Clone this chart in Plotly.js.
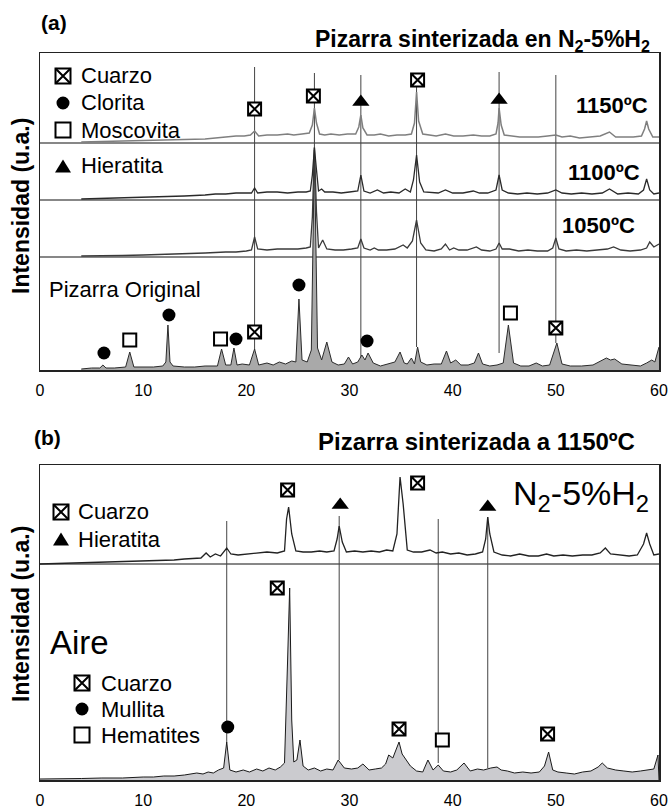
<!DOCTYPE html>
<html><head><meta charset="utf-8">
<script src="https://cdn.plot.ly/plotly-3.0.1.min.js"></script>
<style>html,body{margin:0;padding:0;background:#fff}#chart{width:672px;height:809px}</style>
</head><body><div id="chart"></div>
<script>
// ---------------- DATA (2θ in degrees, intensity in arbitrary units) ----------------
// Panel (a): 1150 ºC in N2-5%H2
const x1150 = [4,6,8,10,12,14,15,16,17,18,
  19,19.8,20.4,20.8,21.2,22,23,24,24.6,25.4,
  26.1,26.4,26.6,26.8,27.1,27.6,28.2,29,29.8,30.6,
  30.9,31.1,31.3,31.7,32.4,33,33.8,34.6,35.4,36.0,
  36.3,36.5,36.7,37.1,37.8,38.4,39.3,40.1,41,42,
  42.8,43.6,44.2,44.4,44.5,44.7,45.0,45.6,46.5,47.4,
  48.3,49.2,50.0,50.6,51.4,52.3,53.2,54.3,55.2,55.8,
  56.6,57.5,58.3,58.6,58.8,59.0,59.4,60];
const y1150 = [1,1.5,2,2,2.5,3,4,4,5,6,
  7,7,8,12,7,8,8,9,8,9,
  10,18,35,20,9,8,9,8,9,9,
  16,28,15,8,8,9,7,8,8,9,
  20,51,22,9,8,7,9,7,7,8,
  7,7,9,20,35,18,8,7,6,6,
  6,7,8,6,7,5,6,7,11,6,
  6,6,7,14,22,14,6,6];
// 1100 ºC
const x1100 = [4,6,8,10,12,14,16,17,18,19,
  20,20.5,20.8,21.1,22,23,24,25,25.8,26.2,
  26.4,26.6,26.8,27.0,27.3,27.6,28.4,29.2,30.0,30.8,
  31.1,31.4,32.0,32.7,33.3,34.0,34.8,35.4,35.9,36.2,
  36.5,36.8,37.2,38.0,38.6,39.3,40.0,41.0,42.0,42.6,
  43.4,44.2,44.5,44.8,45.4,46.3,47.2,48.2,49.2,50.0,
  50.6,51.5,52.5,53.5,54.5,55.2,56.0,57.0,58.0,58.5,
  58.8,59.1,59.5,60];
const y1100 = [1,1.5,2,3,3,4,5,6,6,7,
  7,7,12,7,8,8,7,8,8,9,
  25,52,30,9,11,8,8,7,8,9,
  25,9,7,10,7,8,7,11,8,20,
  45,18,8,7,7,10,7,7,9,7,
  7,10,25,10,7,6,7,6,7,10,
  7,6,7,6,7,11,6,7,6,10,
  21,10,6,7];
// 1050 ºC
const x1050 = [4,6,8,10,12,14,16,18,19,20,
  20.5,20.8,21.1,22,23,24,25,25.8,26.2,26.4,
  26.6,26.8,27.0,27.4,27.8,28.6,29.4,30.2,30.8,31.1,
  31.4,32.0,32.4,32.8,33.6,34.4,35.2,35.6,36.1,36.5,
  36.9,37.4,38.2,38.9,39.3,39.7,40.1,40.6,41.4,42.3,
  42.8,43.6,44.2,44.5,44.8,45.5,46.4,47.3,48.2,49.2,
  49.7,50.0,50.3,51.0,52.0,53.0,54.0,55.0,55.6,56.3,
  57.2,58.2,58.8,59.1,59.5,60];
const y1050 = [1,1,1.5,2,2.5,3,4,5,5,6,
  7,20,8,7,8,8,8,9,10,40,
  110,45,9,17,8,7,7,8,9,18,
  9,7,9,7,7,8,12,9,16,37,
  14,7,6,8,13,7,9,7,7,10,
  7,6,8,14,8,8,6,7,6,6,
  9,19,8,6,7,6,7,8,10,7,
  6,7,9,15,10,13];
// Pizarra original
const xOrig = [4,5,5.8,6.1,6.4,7.2,8.3,8.7,9.1,10,
  11,11.9,12.2,12.4,12.6,12.9,14,15,16,17.2,
  17.6,18.0,18.5,18.8,19.1,19.6,20.3,20.8,21.2,22.0,
  22.6,23.2,23.8,24.4,24.8,25.1,25.4,25.9,26.3,26.6,
  26.9,27.3,27.8,28.3,28.9,29.5,29.9,30.3,30.8,31.2,
  31.5,31.8,32.3,33.0,33.8,34.4,34.9,35.3,35.6,36.0,
  36.3,36.6,36.9,37.5,38.2,38.9,39.4,39.8,40.3,40.8,
  41.5,42.1,42.5,42.9,43.6,44.3,44.9,45.4,45.9,46.6,
  47.4,48.1,48.7,49.4,50.1,50.6,51.4,52.5,53.6,54.4,
  54.9,55.3,55.7,56.4,57.3,58.2,58.8,59.3,59.6,60];
const yOrig = [1,2,2,5,2,2,3,18,3,3,
  3,4,8,45,8,4,3,3,4,4,
  21,5,5,22,5,6,5,21,5,7,
  5,8,6,9,8,71,10,8,20,220,
  22,10,28,8,5,6,13,6,8,15,
  10,17,7,4,6,8,18,7,6,12,
  6,23,8,5,6,6,19,7,10,5,
  5,7,17,6,4,5,7,45,7,4,
  4,7,4,5,27,6,4,4,5,9,
  12,10,11,6,5,4,7,10,8,23];

// Panel (b): 1150 ºC in N2-5%H2
const xN2 = [0,2,4,6,8,10,12,13,14,15,
  15.6,16.1,16.5,17.0,17.5,18.1,18.5,19.2,20,21,
  22,23,23.7,23.9,24.1,24.4,24.8,25.5,26.3,27.1,
  27.8,28.5,28.8,29.0,29.3,29.7,30.5,31.3,32.1,32.9,
  33.6,34.2,34.6,34.9,35.2,35.6,36.2,37.0,37.8,38.4,
  39.0,39.8,40.6,41.4,42.2,42.9,43.2,43.4,43.6,44.0,
  44.8,45.6,46.5,47.4,48.3,49.1,49.8,50.7,51.6,52.6,
  53.5,54.3,54.8,55.3,56.2,57.1,57.9,58.5,58.8,59.1,
  59.5,60];
const yN2 = [0,0.5,1,1.5,2,3,3.5,4,5,6,
  6,11,7,10,8,16,10,9,10,11,
  12,11,13,45,57,30,13,12,12,13,
  12,13,25,38,22,12,13,12,13,12,
  14,13,30,87,60,14,12,12,14,11,
  12,10,11,9,10,12,25,47,30,12,
  9,8,10,8,8,10,8,9,8,9,
  9,11,16,10,9,8,9,20,31,20,
  9,10];
// 1150 ºC in air
const xAir = [0,2,4,6,8,10,11,12,13,14,
  14.6,15.2,15.8,16.3,16.8,17.3,17.8,18.1,18.4,19.0,
  19.7,20.3,21.0,21.6,22.2,22.8,23.3,23.7,24.0,24.2,
  24.4,24.6,24.9,25.2,25.5,26.0,26.6,27.2,27.8,28.4,
  28.9,29.5,30.2,30.8,31.3,31.9,32.5,33.1,33.5,33.8,
  34.2,34.5,34.8,35.1,35.5,35.9,36.5,37.1,37.6,38.1,
  38.6,39.1,39.8,40.4,41.1,41.7,42.4,43.0,43.7,44.3,
  44.7,45.3,46.0,46.8,47.6,48.4,48.9,49.3,49.7,50.2,
  51.0,51.8,52.6,53.4,54.1,54.5,55.0,55.8,56.6,57.4,
  58.2,58.9,59.5,59.9,60];
const yAir = [1,1,1.5,2,2,3,3,4,4,5,
  6,7,6,8,7,10,12,38,10,8,
  10,8,11,9,12,10,13,17,120,192,
  60,18,20,40,14,10,12,9,11,10,
  20,12,11,12,16,10,11,12,16,25,
  22,30,38,26,20,14,9,8,20,10,
  15,9,8,10,17,9,11,10,12,13,
  10,9,7,8,7,8,14,28,10,8,
  7,6,8,9,13,17,12,10,9,8,
  9,10,11,25,0];

// Phase labels (2θ position, label height in panel units)
const topCuarzoX = [20.8, 26.5, 36.6, 20.8, 50.0];
const topCuarzoY = [261, 274, 290, 38, 42];
const topHieratitaX = [31.1, 44.5];
const topHieratitaY = [268, 270];
const topCloritaX = [6.2, 12.5, 19.0, 25.1, 31.7];
const topCloritaY = [17, 55, 31, 85, 29];
const topMoscovitaX = [8.7, 17.5, 45.6];
const topMoscovitaY = [30, 31, 57];

const n2CuarzoX = [24.0, 36.6];
const n2CuarzoY = [290, 297];
const n2HieratitaX = [29.1, 43.4];
const n2HieratitaY = [275, 273];
const airCuarzoX = [23.0, 34.8, 49.2];
const airCuarzoY = [192, 51, 46];
const airMullitaX = [18.2];
const airMullitaY = [53];
const airHematitesX = [39.0];
const airHematitesY = [40];

// Reference lines (2θ, top, bottom in panel units)
const topRefX = [20.8, 26.6, 31.1, 36.5, 44.5, 50.0];
const topRefTop = [303, 297, 295, 295, 298, 295];
const topRefBot = [20, 0, 7, 23, 17, 27];
const botRefX = [18.1, 29.0, 38.6, 43.4];
const botRefTop = [259, 264, 261, 263];
const botRefBot = [38, 20, 17, 12];

const tickVals = [0, 10, 20, 30, 40, 50, 60];
const tickText = ['0', '10', '20', '30', '40', '50', '60'];

const legendTopNames = ['Cuarzo', 'Clorita', 'Moscovita', 'Hieratita'];
const legendTopSyms = ['quartz', 'circle', 'square', 'triangle'];
const legendN2Names = ['Cuarzo', 'Hieratita'];
const legendN2Syms = ['quartz', 'triangle'];
const legendAirNames = ['Cuarzo', 'Mullita', 'Hematites'];
const legendAirSyms = ['quartz', 'circle', 'square'];

// ---------------- LAYOUT HELPERS ----------------
const W = 672, H = 809, L = 40, R = 13;
const PW = W - L - R;
const px = x => (x - L) / PW;
const py = y => (H - y) / H;
const FONT = '"Liberation Sans", Arial, Helvetica, sans-serif';

const OFF = {o1150: 227, o1100: 170, o1050: 113, orig: 0, n2: 216, air: 0};
const add = (arr, o) => arr.map(v => v + o);

const traces = [];
function line(x, y, xa, ya, color, w, fill, fillcolor) {
  const t = {x, y, xaxis: xa, yaxis: ya, type: 'scatter', mode: 'lines',
    line: {color, width: w}, hoverinfo: 'skip', showlegend: false};
  if (fill) { t.fill = 'tozeroy'; t.fillcolor = fillcolor; }
  traces.push(t);
}
line(xOrig, add(yOrig, OFF.orig), 'x', 'y', '#2b2b2b', 1, true, '#a9a9a9');
line(x1050, add(y1050, OFF.o1050), 'x', 'y', '#3a3a3a', 1.3);
line(x1100, add(y1100, OFF.o1100), 'x', 'y', '#2a2a2a', 1.3);
line(x1150, add(y1150, OFF.o1150), 'x', 'y', '#7f7f7f', 1.5);
line(xAir, add(yAir, OFF.air), 'x2', 'y2', '#1a1a1a', 1, true, '#cbcbcf');
line(xN2, add(yN2, OFF.n2), 'x2', 'y2', '#222', 1.3);

const SYM = {
  quartz: {symbol: 'square-x', size: 13, color: '#fff', line: {color: '#000', width: 2}},
  square: {symbol: 'square', size: 13, color: '#fff', line: {color: '#000', width: 2}},
  circle: {symbol: 'circle', size: 13, color: '#000', line: {width: 0}},
  triangle: {symbol: 'triangle-up', size: 15, color: '#000', line: {width: 0}}
};
function marks(x, y, xa, ya, sym) {
  traces.push({x, y, xaxis: xa, yaxis: ya, type: 'scatter', mode: 'markers',
    marker: SYM[sym], hoverinfo: 'skip', showlegend: false, cliponaxis: false});
}
marks(topCuarzoX, topCuarzoY, 'x', 'y', 'quartz');
marks(topHieratitaX, topHieratitaY, 'x', 'y', 'triangle');
marks(topCloritaX, topCloritaY, 'x', 'y', 'circle');
marks(topMoscovitaX, topMoscovitaY, 'x', 'y', 'square');
marks(n2CuarzoX, n2CuarzoY, 'x2', 'y2', 'quartz');
marks(n2HieratitaX, n2HieratitaY, 'x2', 'y2', 'triangle');
marks(airCuarzoX, airCuarzoY, 'x2', 'y2', 'quartz');
marks(airMullitaX, airMullitaY, 'x2', 'y2', 'circle');
marks(airHematitesX, airHematitesY, 'x2', 'y2', 'square');

// ---------------- SHAPES ----------------
const shapes = [];
topRefX.forEach((x, i) => shapes.push({type: 'line', xref: 'x', yref: 'y', x0: x, x1: x,
  y0: topRefBot[i], y1: topRefTop[i], line: {color: '#444', width: 1}, layer: 'below'}));
botRefX.forEach((x, i) => shapes.push({type: 'line', xref: 'x2', yref: 'y2', x0: x, x1: x,
  y0: botRefBot[i], y1: botRefTop[i], line: {color: '#444', width: 1}, layer: 'below'}));
[OFF.o1150, OFF.o1100, OFF.o1050].forEach(v => shapes.push({type: 'line', xref: 'paper', yref: 'y',
  x0: 0, x1: 1, y0: v, y1: v, line: {color: '#111', width: 1.2}, layer: 'below'}));
shapes.push({type: 'line', xref: 'paper', yref: 'y2', x0: 0, x1: 1, y0: OFF.n2, y1: OFF.n2,
  line: {color: '#111', width: 1.2}, layer: 'below'});

function glyph(kind, cx, cy) {
  const s = 7.5;
  if (kind === 'quartz' || kind === 'square') {
    shapes.push({type: 'rect', xref: 'paper', yref: 'paper', x0: px(cx - s), x1: px(cx + s),
      y0: py(cy + s), y1: py(cy - s), line: {color: '#000', width: 2}, fillcolor: '#fff'});
    if (kind === 'quartz') {
      shapes.push({type: 'path', xref: 'paper', yref: 'paper',
        path: `M ${px(cx - s)},${py(cy + s)} L ${px(cx + s)},${py(cy - s)} M ${px(cx - s)},${py(cy - s)} L ${px(cx + s)},${py(cy + s)}`,
        line: {color: '#000', width: 2}});
    }
  } else if (kind === 'circle') {
    shapes.push({type: 'circle', xref: 'paper', yref: 'paper', x0: px(cx - 6.5), x1: px(cx + 6.5),
      y0: py(cy + 6.5), y1: py(cy - 6.5), fillcolor: '#000', line: {width: 0}});
  } else if (kind === 'triangle') {
    shapes.push({type: 'path', xref: 'paper', yref: 'paper',
      path: `M ${px(cx - 8)},${py(cy + 6.5)} L ${px(cx + 8)},${py(cy + 6.5)} L ${px(cx)},${py(cy - 6.5)} Z`,
      fillcolor: '#000', line: {width: 0}});
  }
}

// ---------------- ANNOTATIONS ----------------
const ann = [];
function txt(t, x, y, size, opts) {
  ann.push(Object.assign({text: t, x: px(x), y: py(y), xref: 'paper', yref: 'paper',
    showarrow: false, xanchor: 'left', yanchor: 'middle',
    font: {family: FONT, size, color: '#000'}}, opts || {}));
}
txt('<b>(a)</b>', 54, 23, 21, {xanchor: 'center'});
txt('<b>Pizarra sinterizada en N<sub>2</sub>-5%H<sub>2</sub></b>', 652, 40, 23, {xanchor: 'right'});
txt('<b>1150ºC</b>', 650, 106, 22, {xanchor: 'right'});
txt('<b>1100ºC</b>', 642, 172, 22, {xanchor: 'right'});
txt('<b>1050ºC</b>', 637, 225, 22, {xanchor: 'right'});
txt('Pizarra Original', 47, 289, 22);
txt('<b>Intensidad (u.a.)</b>', 21, 206, 23, {xanchor: 'center', textangle: -90});

txt('<b>(b)</b>', 47, 437, 21, {xanchor: 'center'});
txt('<b>Pizarra sinterizada a 1150ºC</b>', 637, 441, 24, {xanchor: 'right'});
txt('N<sub>2</sub>-5%H<sub>2</sub>', 651, 495, 34, {xanchor: 'right'});
txt('Aire', 48, 642, 33);
txt('<b>Intensidad (u.a.)</b>', 21, 614, 23, {xanchor: 'center', textangle: -90});

const topLegY = [76, 103, 130, 166];
legendTopNames.forEach((n, i) => { glyph(legendTopSyms[i], 63, topLegY[i]); txt(n, 79, topLegY[i], 22); });
const n2LegY = [512, 539];
legendN2Names.forEach((n, i) => { glyph(legendN2Syms[i], 61, n2LegY[i]); txt(n, 76, n2LegY[i], 22); });
const airLegY = [683, 709, 735];
legendAirNames.forEach((n, i) => { glyph(legendAirSyms[i], 82, airLegY[i]); txt(n, 99, airLegY[i], 22); });

// ---------------- AXES ----------------
const xCommon = {range: [0, 60], tickvals: tickVals, ticktext: tickText, showgrid: false,
  zeroline: false, showline: true, mirror: true, linecolor: '#222', linewidth: 1.5,
  ticks: '', ticklabelstandoff: 5, tickfont: {family: FONT, size: 16, color: '#000'}, fixedrange: true};
const yCommon = {showgrid: false, zeroline: false, showline: true, mirror: true,
  linecolor: '#222', linewidth: 1.5, showticklabels: false, ticks: '', fixedrange: true};

const layout = {
  width: W, height: H,
  margin: {l: L, r: R, t: 0, b: 0},
  paper_bgcolor: '#fff', plot_bgcolor: 'rgba(0,0,0,0)',
  showlegend: false,
  xaxis: Object.assign({}, xCommon, {anchor: 'y', domain: [0, 1]}),
  yaxis: Object.assign({}, yCommon, {anchor: 'x', range: [0, 317], domain: [py(370), py(53)]}),
  xaxis2: Object.assign({}, xCommon, {anchor: 'y2', domain: [0, 1]}),
  yaxis2: Object.assign({}, yCommon, {anchor: 'x2', range: [0, 315], domain: [py(780), py(465)]}),
  shapes, annotations: ann
};
Plotly.newPlot('chart', traces, layout, {staticPlot: true, displayModeBar: false});
</script></body></html>
